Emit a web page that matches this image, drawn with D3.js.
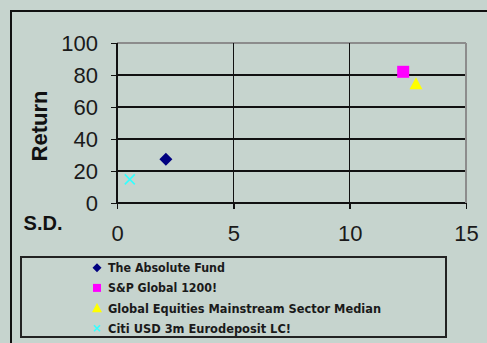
<!DOCTYPE html>
<html>
<head>
<meta charset="utf-8">
<script src="https://cdn.jsdelivr.net/npm/d3@7"></script>
<style>
  html, body { margin: 0; padding: 0; background: #C6D4CE; }
  svg { display: block; }
</style>
</head>
<body>
<svg id="chart" width="487" height="343"></svg>
<script>
// Risk / return scatter: standard deviation vs. return
const seriesNames = [
  "The Absolute Fund",
  "S&P Global 1200!",
  "Global Equities Mainstream Sector Median",
  "Citi USD 3m Eurodeposit LC!"
];
const sdValues = [2.1, 12.3, 12.85, 0.55];
const returnValues = [27.3, 82, 74.5, 14.8];
const markerShapes = ["diamond", "square", "triangle", "cross"];
const markerColors = ["#000080", "#FF00FF", "#FFFF00", "#33FFFF"];
const xTicks = [0, 5, 10, 15];
const yTicks = [0, 20, 40, 60, 80, 100];

const svg = d3.select("#chart");
const bg = "#C6D4CE";
const plotLeft = 117, plotRight = 466, plotTop = 43, plotBottom = 203;

const x = d3.scaleLinear().domain([0, 15]).range([plotLeft, plotRight]);
const y = d3.scaleLinear().domain([0, 100]).range([plotBottom, plotTop]);

// Outer chart frame (runs off the right and bottom edges)
svg.append("rect")
  .attr("x", 11).attr("y", 11).attr("width", 500).attr("height", 360)
  .attr("fill", bg).attr("stroke", "#111").attr("stroke-width", 2);

const grid = svg.append("g").attr("shape-rendering", "crispEdges");

// Horizontal gridlines (top edge of plot area is grey)
grid.selectAll("line.h").data(yTicks).join("line")
  .attr("class", "h")
  .attr("x1", plotLeft).attr("x2", plotRight)
  .attr("y1", d => y(d)).attr("y2", d => y(d))
  .attr("stroke", d => d === 100 ? "#8C8C8C" : "#111")
  .attr("stroke-width", 1.5);

// Vertical gridlines (right edge of plot area is grey)
grid.selectAll("line.v").data(xTicks).join("line")
  .attr("class", "v")
  .attr("y1", plotTop).attr("y2", plotBottom)
  .attr("x1", d => x(d)).attr("x2", d => x(d))
  .attr("stroke", d => d === 15 ? "#8C8C8C" : "#111")
  .attr("stroke-width", 1.5);

// Axes with outward ticks
const yAxis = d3.axisLeft(y).tickValues(yTicks).tickSize(6).tickSizeOuter(0).tickPadding(13);
const xAxis = d3.axisBottom(x).tickValues(xTicks).tickSize(6).tickSizeOuter(0).tickPadding(16);

const gy = svg.append("g").attr("transform", `translate(${plotLeft},0)`).call(yAxis);
const gx = svg.append("g").attr("transform", `translate(0,${plotBottom})`).call(xAxis);

[gx, gy].forEach(g => {
  g.select(".domain").attr("stroke", "#111").attr("stroke-width", 1.5).attr("shape-rendering", "crispEdges");
  g.selectAll(".tick line").attr("stroke", "#111").attr("stroke-width", 1.5).attr("shape-rendering", "crispEdges");
  g.selectAll(".tick text")
    .attr("fill", "#1a1a1a")
    .attr("font-family", "Liberation Sans, Arial, sans-serif")
    .attr("font-size", 22);
});

// Axis titles
svg.append("text")
  .attr("transform", "translate(47,126) rotate(-90)")
  .attr("text-anchor", "middle")
  .attr("font-family", "Liberation Sans, Arial, sans-serif")
  .attr("font-weight", "bold").attr("font-size", 22)
  .attr("fill", "#111")
  .text("Return");

svg.append("text")
  .attr("x", 43).attr("y", 230)
  .attr("text-anchor", "middle")
  .attr("font-family", "Liberation Sans, Arial, sans-serif")
  .attr("font-weight", "bold").attr("font-size", 20)
  .attr("fill", "#111")
  .text("S.D.");

// Marker path builder
function markerPath(shape, s) {
  const h = s / 2;
  switch (shape) {
    case "diamond": return `M0,${-h}L${h},0L0,${h}L${-h},0Z`;
    case "square": return `M${-h},${-h}H${h}V${h}H${-h}Z`;
    case "triangle": return `M0,${-h}L${h},${h * 0.85}L${-h},${h * 0.85}Z`;
    case "cross": return `M${-h},${-h}L${h},${h}M${h},${-h}L${-h},${h}`;
  }
}
function drawMarker(g, i, size) {
  const shape = markerShapes[i];
  const p = g.append("path").attr("d", markerPath(shape, size));
  if (shape === "cross") {
    p.attr("fill", "none").attr("stroke", markerColors[i]).attr("stroke-width", 1.6);
  } else {
    p.attr("fill", markerColors[i]);
  }
}

// Data points
const pointSizes = [13, 12, 13, 10];
sdValues.forEach((sd, i) => {
  const g = svg.append("g").attr("transform", `translate(${x(sd)},${y(returnValues[i])})`);
  drawMarker(g, i, pointSizes[i]);
});

// Legend
const legend = svg.append("g");
legend.append("rect")
  .attr("x", 21).attr("y", 257).attr("width", 425).attr("height", 80)
  .attr("fill", bg).attr("stroke", "#222").attr("stroke-width", 2);

const legendRowY = d3.scalePoint().domain(d3.range(seriesNames.length)).range([267.7, 328.3]);
const legendTextWidths = [117, 109, 273, 183];
const legendMarkerSizes = [9, 8, 10, 6];
seriesNames.forEach((name, i) => {
  const cy = legendRowY(i);
  const g = legend.append("g").attr("transform", `translate(97,${cy})`);
  drawMarker(g, i, legendMarkerSizes[i]);
  legend.append("text")
    .attr("x", 108).attr("y", cy + 4.5)
    .attr("font-family", "DejaVu Sans, sans-serif")
    .attr("font-weight", "bold").attr("font-size", 12)
    .attr("fill", "#1a1a1a")
    .attr("textLength", legendTextWidths[i])
    .attr("lengthAdjust", "spacingAndGlyphs")
    .text(name);
});
</script>
</body>
</html>
